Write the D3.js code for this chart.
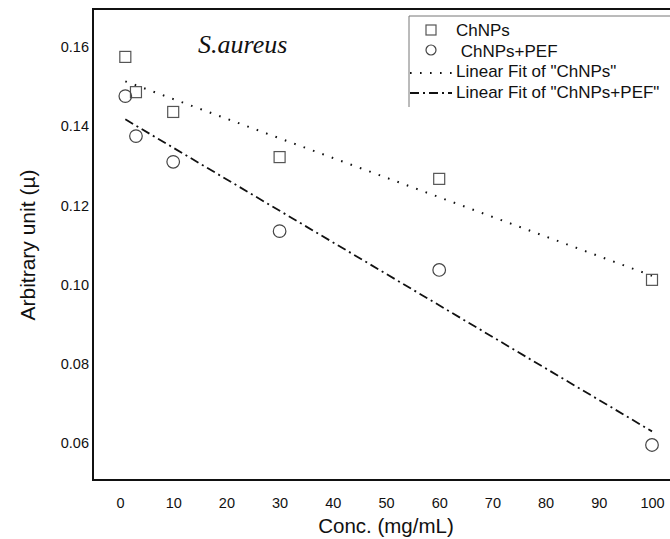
<!DOCTYPE html>
<html>
<head>
<meta charset="utf-8">
<script src="https://cdn.jsdelivr.net/npm/d3@7"></script>
<style>
body { margin: 0; background: #fff; }
text { font-family: "Liberation Sans", Arial, sans-serif; }
</style>
</head>
<body>
<div id="chart"></div>
<script>
// data
var conc = [1, 3, 10, 30, 60, 100];
var chnps = [0.1575, 0.1486, 0.1436, 0.1322, 0.1267, 0.1012];
var chnpsPef = [0.1476, 0.1375, 0.1310, 0.1135, 0.1037, 0.0595];
var xTicks = [0, 10, 20, 30, 40, 50, 60, 70, 80, 90, 100];
var yTicks = [0.06, 0.08, 0.10, 0.12, 0.14, 0.16];
var legendLabels = ["ChNPs", " ChNPs+PEF", "Linear Fit of \"ChNPs\"", "Linear Fit of \"ChNPs+PEF\""];

var W = 670, H = 539;
var frame = {left: 93, top: 9, right: 690, bottom: 480};

var svg = d3.select("#chart").append("svg")
	.attr("width", W)
	.attr("height", H);

var x = d3.scaleLinear().domain([0, 100]).range([120, 652]);
var y = d3.scaleLinear().domain([0.06, 0.16]).range([443, 47]);

// least squares fit
function fit(xs, ys) {
	var mx = d3.mean(xs), my = d3.mean(ys);
	var sxy = d3.sum(xs, function(d, i) { return (d - mx) * (ys[i] - my); });
	var sxx = d3.sum(xs, function(d) { return (d - mx) * (d - mx); });
	var b = sxy / sxx;
	return {b: b, a: my - b * mx};
}

// frame
svg.append("rect")
	.attr("x", frame.left).attr("y", frame.top)
	.attr("width", frame.right - frame.left)
	.attr("height", frame.bottom - frame.top)
	.attr("fill", "none")
	.attr("stroke", "#111")
	.attr("stroke-width", 2);

// axes, labels only (no tick marks)
var xAxis = d3.axisBottom(x).tickValues(xTicks).tickSize(0).tickPadding(0);
svg.append("g")
	.attr("transform", "translate(0,498)")
	.call(xAxis)
	.call(function(g) {
		g.select(".domain").remove();
		g.selectAll("text").attr("fill", "#111")
			.style("font-size", "14.5px")
			.style("font-family", "Liberation Sans, Arial, sans-serif");
	});

var yAxis = d3.axisLeft(y).tickValues(yTicks).tickSize(0).tickPadding(0)
	.tickFormat(d3.format(".2f"));
svg.append("g")
	.attr("transform", "translate(89,0)")
	.call(yAxis)
	.call(function(g) {
		g.select(".domain").remove();
		g.selectAll("text").attr("fill", "#111")
			.style("font-size", "14.5px")
			.style("font-family", "Liberation Sans, Arial, sans-serif");
	});

svg.append("text")
	.attr("x", 386).attr("y", 533)
	.attr("text-anchor", "middle")
	.style("font-size", "20.5px")
	.attr("fill", "#111")
	.text("Conc. (mg/mL)");

svg.append("text")
	.attr("transform", "translate(35,245) rotate(-90)")
	.attr("text-anchor", "middle")
	.style("font-size", "21px")
	.attr("fill", "#111")
	.text("Arbitrary unit (\u00b5)");

svg.append("text")
	.attr("x", 198).attr("y", 53)
	.style("font-family", "'Liberation Serif', 'Times New Roman', serif")
	.style("font-style", "italic")
	.style("font-size", "26px")
	.attr("fill", "#111")
	.text("S.aureus");

// fit lines
var line = d3.line().x(function(d) { return x(d[0]); }).y(function(d) { return y(d[1]); });
var fits = [
	{f: fit(conc, chnps), dash: "1.6,8.4", w: 2},
	{f: fit(conc, chnpsPef), dash: "9,4,2,4", w: 1.8}
];
fits.forEach(function(s) {
	var x0 = d3.min(conc), x1 = d3.max(conc);
	svg.append("path")
		.attr("d", line([[x0, s.f.a + s.f.b * x0], [x1, s.f.a + s.f.b * x1]]))
		.attr("fill", "none")
		.attr("stroke", "#111")
		.attr("stroke-width", s.w)
		.attr("stroke-dasharray", s.dash);
});

// points
svg.selectAll(".sq").data(conc).enter()
	.append("rect")
	.attr("class", "sq")
	.attr("x", function(d) { return x(d) - 5.5; })
	.attr("y", function(d, i) { return y(chnps[i]) - 5.5; })
	.attr("width", 11).attr("height", 11)
	.attr("fill", "none")
	.attr("stroke", "#555")
	.attr("stroke-width", 1.2);

svg.selectAll(".ci").data(conc).enter()
	.append("circle")
	.attr("class", "ci")
	.attr("cx", function(d) { return x(d); })
	.attr("cy", function(d, i) { return y(chnpsPef[i]); })
	.attr("r", 6.3)
	.attr("fill", "none")
	.attr("stroke", "#444")
	.attr("stroke-width", 1.2);

// legend
var lg = svg.append("g");
lg.append("path")
	.attr("d", "M409,107V16H680")
	.attr("fill", "none")
	.attr("stroke", "#777")
	.attr("stroke-width", 1);

lg.append("rect")
	.attr("x", 426).attr("y", 25).attr("width", 10).attr("height", 10)
	.attr("fill", "none").attr("stroke", "#555").attr("stroke-width", 1.2);
lg.append("circle")
	.attr("cx", 431).attr("cy", 50).attr("r", 5)
	.attr("fill", "none").attr("stroke", "#444").attr("stroke-width", 1.2);
lg.append("line")
	.attr("x1", 410).attr("x2", 452).attr("y1", 73).attr("y2", 73)
	.attr("stroke", "#111").attr("stroke-width", 2).attr("stroke-dasharray", "1.6,8.4");
lg.append("line")
	.attr("x1", 410).attr("x2", 452).attr("y1", 93).attr("y2", 93)
	.attr("stroke", "#111").attr("stroke-width", 1.8).attr("stroke-dasharray", "9,4,2,4");

lg.selectAll(".lt").data(legendLabels).enter()
	.append("text")
	.attr("class", "lt")
	.attr("x", 456)
	.attr("y", function(d, i) { return 36 + i * 20.5; })
	.style("font-size", "17px")
	.attr("fill", "#111")
	.style("white-space", "pre")
	.text(function(d) { return d; });
</script>
</body>
</html>
